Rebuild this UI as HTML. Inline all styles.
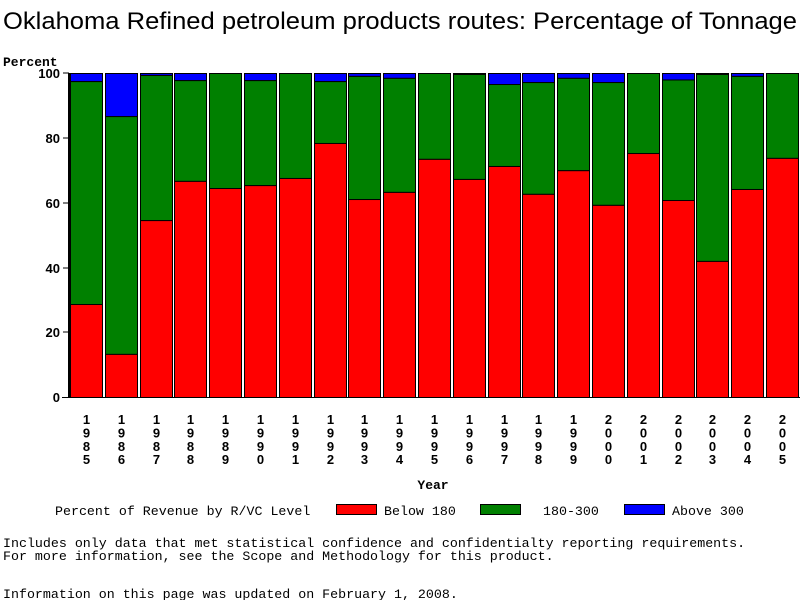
<!DOCTYPE html>
<html><head><meta charset="utf-8"><style>body{margin:0;background:#fff}svg{display:block}</style></head>
<body>
<svg width="800" height="600" xmlns="http://www.w3.org/2000/svg" font-family="Liberation Sans, sans-serif">
<text x="3" y="29" font-size="24" textLength="794" lengthAdjust="spacingAndGlyphs">Oklahoma Refined petroleum products routes: Percentage of Tonnage</text>
<text x="3" y="66" font-size="13" font-weight="bold" font-family="Liberation Mono, monospace">Percent</text>
<g id="bars" stroke="#000" stroke-width="1"></g>
<line x1="69" y1="73" x2="69" y2="398" stroke="#000" stroke-width="2"/>
<line x1="62" y1="397.5" x2="800" y2="397.5" stroke="#000" stroke-width="1"/>
<g font-size="13" font-weight="bold" text-anchor="end" font-family="Liberation Sans, sans-serif">
<line x1="63" y1="73" x2="69" y2="73" stroke="#000"/><text x="60" y="78">100</text>
<line x1="63" y1="138" x2="69" y2="138" stroke="#000"/><text x="60" y="143">80</text>
<line x1="63" y1="203" x2="69" y2="203" stroke="#000"/><text x="60" y="208">60</text>
<line x1="63" y1="268" x2="69" y2="268" stroke="#000"/><text x="60" y="273">40</text>
<line x1="63" y1="332" x2="69" y2="332" stroke="#000"/><text x="60" y="337">20</text>
<text x="60" y="402">0</text>
</g>
<g id="years" font-size="13" font-weight="bold" text-anchor="middle"></g>
<text x="433" y="489" font-size="13" font-weight="bold" text-anchor="middle" font-family="Liberation Mono, monospace">Year</text>
<g font-family="Liberation Mono, monospace" font-size="13.3">
<text x="55" y="515">Percent of Revenue by R/VC Level</text>
<rect x="336.5" y="504.5" width="40" height="10" fill="#f00" stroke="#000"/><text x="384" y="515">Below 180</text>
<rect x="480.5" y="504.5" width="40" height="10" fill="#008000" stroke="#000"/><text x="543" y="515">180-300</text>
<rect x="624.5" y="504.5" width="40" height="10" fill="#00f" stroke="#000"/><text x="672" y="515">Above 300</text>
<text x="3" y="547">Includes only data that met statistical confidence and confidentialty reporting requirements.</text>
<text x="3" y="560">For more information, see the Scope and Methodology for this product.</text>
<text x="3" y="598">Information on this page was updated on February 1, 2008.</text>
</g>
</svg>
<script>
var d=[[28.7,97.5],[13.3,86.7],[54.6,99.4],[66.7,97.8],[64.5,100],[65.4,97.8],[67.6,100],[78.4,97.5],[61.1,99.1],[63.3,98.5],[73.5,100],[67.3,99.7],[71.3,96.6],[62.7,97.2],[70,98.5],[59.3,97.2],[75.3,100],[60.8,98],[42,99.7],[64.2,99.1],[73.8,100]];
var ns="http://www.w3.org/2000/svg",g=document.getElementById('bars'),yg=document.getElementById('years');
function y(v){return 397-v*3.24}
function r(x,y1,y2,c){var e=document.createElementNS(ns,'rect');e.setAttribute('x',x+.5);e.setAttribute('y',y1+.5);e.setAttribute('width',32);e.setAttribute('height',Math.max(0,y2-y1));e.setAttribute('fill',c);g.appendChild(e);}
d.forEach(function(p,i){var x=Math.round(70+i*34.8);
r(x,y(100),y(p[1]),'#00f');r(x,y(p[1]),y(p[0]),'#008000');r(x,y(p[0]),397,'#f00');
var s=String(1985+i);for(var k=0;k<4;k++){var t=document.createElementNS(ns,'text');t.setAttribute('x',x+16.5);t.setAttribute('y',424+k*13.4);t.textContent=s[k];yg.appendChild(t);}
});
</script>
</body></html>
